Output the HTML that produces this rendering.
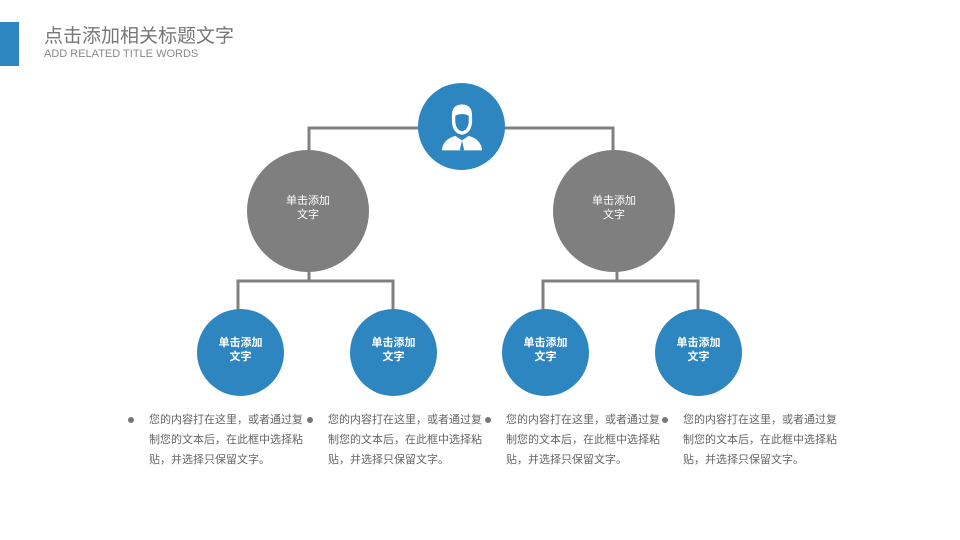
<!DOCTYPE html>
<html><head><meta charset="utf-8"><style>
body{margin:0;width:960px;height:540px;background:#fff;position:relative;overflow:hidden;font-family:"Liberation Sans","Noto Sans CJK SC",sans-serif}
.a{position:absolute}
.c{position:absolute;border-radius:50%;display:flex;align-items:center;justify-content:center;text-align:center;color:#fff;font-size:11px;line-height:14px;box-sizing:border-box;padding-bottom:6px}
.g{background:#7f7f7f}
.b{background:#2e86c1;font-weight:bold}
.t{position:absolute;font-size:11px;line-height:20px;color:#666;width:162px}
.d{position:absolute;width:6px;height:6px;border-radius:50%;background:#777}
</style></head><body>
<div class="a" style="left:0;top:22px;width:19px;height:44px;background:#2e86c1"></div>
<div class="a" style="left:44px;top:25px;font-size:19px;color:#777;line-height:24px">点击添加相关标题文字</div>
<div class="a" style="left:44px;top:48px;font-size:11px;color:#888;line-height:13px">ADD RELATED TITLE WORDS</div>
<svg class="a" style="left:0;top:0" width="960" height="540">
<g stroke="#808080" stroke-width="3" fill="none">
<polyline points="309,152 309,128 613,128 613,152"/>
<line x1="309" y1="270" x2="309" y2="281"/>
<polyline points="238,312 238,281 393,281 393,312"/>
<line x1="617" y1="270" x2="617" y2="281"/>
<polyline points="543,312 543,281 698,281 698,312"/>
</g>
</svg>
<div class="c b" style="left:418px;top:83px;width:87px;height:87px;padding:0">
<svg width="56" height="56" viewBox="0 0 50 50" style="margin-top:2px"><g fill="#fff">
<path d="M16 14 Q16 4 25 4 Q34 4 34 14 L34 20 Q33 30 25 31 Q17 30 16 20 Z"/>
<path d="M7 45 Q8 35 19 32 L25 36 L31 32 Q42 35 43 45 Z"/>
</g><path d="M25 36 L23 45 L27 45 Z" fill="#2e86c1"/><path d="M19 14 Q25 11 31 14 L31 20 Q30 27 25 28 Q20 27 19 20 Z" fill="#2e86c1"/></svg>
</div>
<div class="c g" style="left:247px;top:150px;width:122px;height:122px">单击添加<br>文字</div>
<div class="c g" style="left:553px;top:150px;width:122px;height:122px">单击添加<br>文字</div>
<div class="c b" style="left:197px;top:309px;width:87px;height:87px">单击添加<br>文字</div>
<div class="c b" style="left:350px;top:309px;width:87px;height:87px">单击添加<br>文字</div>
<div class="c b" style="left:502px;top:309px;width:87px;height:87px">单击添加<br>文字</div>
<div class="c b" style="left:655px;top:309px;width:87px;height:87px">单击添加<br>文字</div>
<div class="d" style="left:128px;top:417px"></div>
<div class="d" style="left:307px;top:417px"></div>
<div class="d" style="left:485px;top:417px"></div>
<div class="d" style="left:662px;top:417px"></div>
<div class="t" style="left:149px;top:410px">您的内容打在这里，或者通过复制您的文本后，在此框中选择粘贴，并选择只保留文字。</div>
<div class="t" style="left:328px;top:410px">您的内容打在这里，或者通过复制您的文本后，在此框中选择粘贴，并选择只保留文字。</div>
<div class="t" style="left:506px;top:410px">您的内容打在这里，或者通过复制您的文本后，在此框中选择粘贴，并选择只保留文字。</div>
<div class="t" style="left:683px;top:410px">您的内容打在这里，或者通过复制您的文本后，在此框中选择粘贴，并选择只保留文字。</div>
</body></html>
